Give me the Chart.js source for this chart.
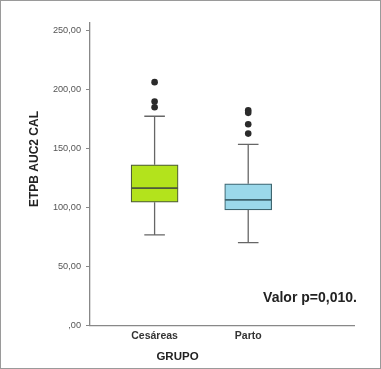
<!DOCTYPE html>
<html>
<head>
<meta charset="utf-8">
<script src="https://cdn.jsdelivr.net/npm/chart.js@4"></script>
<style>
  body { margin: 0; background: #fff; }
  #frame { width: 379px; height: 367px; border: 1px solid #9a9a9a; }
  canvas { display: block; }
</style>
</head>
<body>
<div id="frame"><canvas id="graph" width="379" height="367"></canvas></div>
<script>
// groups and box statistics
const groups = ['Cesáreas', 'Parto'];
const groupPos = [1, 2];
const mins = [76.5, 69.9];
const q1s = [104.2, 97.7];
const medians = [116.1, 106.2];
const q3s = [135.9, 119.8];
const maxs = [177, 153.2];
const outliers = [[205.9, 189.5, 184.6], [182.1, 179.9, 170.2, 162.3]];
const boxColors = ['#b3e31c', '#9bd8ea'];
const boxBorders = ['#4d5a3c', '#3f6670'];
const yTicks = [0, 50, 100, 150, 200, 250];
const pValueText = 'Valor p=0,010.';
const capHalf = 0.11;

// whiskers + caps as one line dataset with gaps
const whiskerData = [];
groupPos.forEach((x, i) => {
    whiskerData.push({x: x, y: q3s[i]}, {x: x, y: maxs[i]}, {x: x, y: null});
    whiskerData.push({x: x, y: q1s[i]}, {x: x, y: mins[i]}, {x: x, y: null});
    whiskerData.push({x: x - capHalf, y: maxs[i]}, {x: x + capHalf, y: maxs[i]}, {x: x, y: null});
    whiskerData.push({x: x - capHalf, y: mins[i]}, {x: x + capHalf, y: mins[i]}, {x: x, y: null});
});
const outlierData = [];
groupPos.forEach((x, i) => {
    outliers[i].forEach(v => outlierData.push({x: x, y: v}));
});

const fmt = v => {
    const s = v.toFixed(2).replace('.', ',');
    return v === 0 ? ',00' : s;
};

const textPlugin = {
    id: 'texts',
    afterDraw(chart) {
        const c = chart.ctx;
        const xs = chart.scales.x, ys = chart.scales.y;
        c.save();
        c.fillStyle = '#222';
        c.font = 'bold 14px "Liberation Sans", Arial, sans-serif';
        c.textAlign = 'center';
        c.textBaseline = 'middle';
        c.fillText(pValueText, xs.getPixelForValue(2.66), ys.getPixelForValue(23));
        c.font = 'bold 12px "Liberation Sans", Arial, sans-serif';
        c.translate(34, chart.chartArea.top + (chart.chartArea.bottom - chart.chartArea.top) * 0.45);
        c.rotate(-Math.PI / 2);
        c.fillText('ETPB AUC2 CAL', 0, 0);
        c.restore();
    }
};

const ctx = document.getElementById('graph').getContext('2d');
const myChart = new Chart(ctx, {
    type: 'bar',
    data: {
        datasets: [
            {
                type: 'line',
                data: outlierData,
                showLine: false,
                pointRadius: 3.3,
                pointBackgroundColor: '#2b2b2b',
                pointBorderWidth: 0,
                order: 0
            },
            {
                label: 'lower',
                data: groupPos.map((x, i) => ({x: x, y: [q1s[i], medians[i]]})),
                backgroundColor: boxColors,
                borderColor: boxBorders,
                borderWidth: 1.2,
                borderSkipped: false,
                barThickness: 47,
                grouped: false,
                order: 1
            },
            {
                label: 'upper',
                data: groupPos.map((x, i) => ({x: x, y: [medians[i], q3s[i]]})),
                backgroundColor: boxColors,
                borderColor: boxBorders,
                borderWidth: 1.2,
                borderSkipped: false,
                barThickness: 47,
                grouped: false,
                order: 1
            },
            {
                type: 'line',
                data: whiskerData,
                borderColor: '#666',
                borderWidth: 1.3,
                pointRadius: 0,
                spanGaps: false,
                order: 2
            }
        ]
    },
    options: {
        responsive: false,
        animation: false,
        layout: { padding: { left: 0, right: 26, top: 22, bottom: 0 } },
        plugins: {
            legend: { display: false },
            tooltip: { enabled: false },
            title: {
                display: true,
                position: 'bottom',
                text: 'GRUPO',
                color: '#222',
                font: { family: '"Liberation Sans", Arial, sans-serif', size: 11.5, weight: 'bold' },
                padding: { top: 4, bottom: 4 }
            }
        },
        scales: {
            x: {
                type: 'linear',
                min: 0.31,
                max: 3.13,
                offset: false,
                grid: { display: false, drawTicks: false },
                border: { display: true, color: '#888', width: 1.3 },
                afterBuildTicks: axis => { axis.ticks = groupPos.map(v => ({value: v})); },
                afterFit: axis => { axis.height = 21; },
                ticks: {
                    padding: 5,
                    color: '#333',
                    font: { family: '"Liberation Sans", Arial, sans-serif', size: 10.5, weight: 'bold' },
                    callback: v => groups[groupPos.indexOf(v)]
                }
            },
            y: {
                min: 0,
                max: 256,
                grid: { drawOnChartArea: false, drawTicks: true, tickLength: 4, color: '#888' },
                border: { display: true, color: '#888', width: 1.3 },
                afterBuildTicks: axis => { axis.ticks = yTicks.map(v => ({value: v})); },
                afterFit: axis => { axis.width = 89; },
                ticks: {
                    padding: 5,
                    color: '#555',
                    font: { family: '"Liberation Sans", Arial, sans-serif', size: 9.2 },
                    callback: v => fmt(v)
                }
            }
        }
    },
    plugins: [textPlugin]
});
</script>
</body>
</html>
